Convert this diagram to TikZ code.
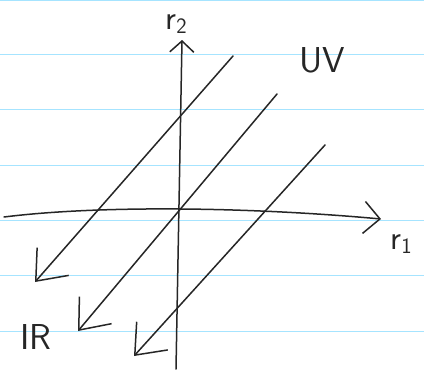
\documentclass[tikz,border=0pt]{standalone}
\usetikzlibrary{arrows.meta}
\begin{document}
\begin{tikzpicture}[x=1pt,y=-1pt,
  ink/.style={line width=1.5pt,draw=black!85,line cap=round},
  tip/.style={-{Straight Barb[length=26pt,width=42pt,line width=1.5pt]}},
  tipv/.style={-{Straight Barb[length=11pt,width=24pt,line width=1.5pt]}},
  tiph/.style={-{Straight Barb[length=16pt,width=32pt,line width=1.5pt]}},
  rule/.style={line width=0.8pt,draw=blue!30!cyan!35!white},
  lbl/.style={font=\fontsize{36}{36}\selectfont\sffamily,text=black!85,inner sep=0pt},
  sub/.style={font=\fontsize{34}{34}\selectfont\sffamily,text=black!85,inner sep=0pt}]
\useasboundingbox (0,0) rectangle (424,373);
\fill[white] (0,0) rectangle (424,373);
\foreach \yy in {0,54,109,165,220,275,331} \draw[rule] (0,\yy) -- (424,\yy);
% axes
\coordinate (yb) at (176,369);
\coordinate (yt) at (182,40);
\draw[ink,tipv] (yb) -- (yt);
\coordinate (xl) at (4,217);
\coordinate (xr) at (381,219);
\draw[ink,tiph] (xl) .. controls (100,205) and (250,207) .. (xr);
% diagonal lines
\coordinate (a1) at (233,56);  \coordinate (b1) at (35,282);
\coordinate (a2) at (277,94);  \coordinate (b2) at (78,331);
\coordinate (a3) at (325,145); \coordinate (b3) at (134,356);
\draw[ink,tip] (a1) -- (b1);
\draw[ink,tip] (a2) -- (b2);
\draw[ink,tip] (a3) -- (b3);
% labels
\node[sub] (r2) at (176,24) {r\raisebox{-0.1em}{\fontsize{22}{22}\selectfont 2}};
\node[sub] (r1) at (401,244) {r\raisebox{-0.1em}{\fontsize{22}{22}\selectfont 1}};
\node[lbl] (uv) at (322,60) {UV};
\node[lbl] (ir) at (36,337) {IR};
\end{tikzpicture}
\end{document}
